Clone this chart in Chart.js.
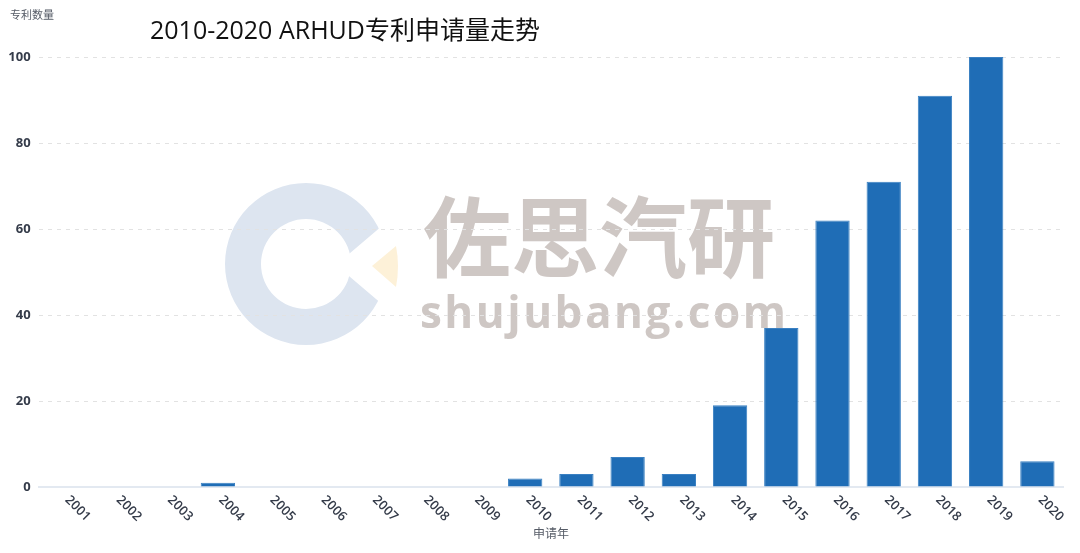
<!DOCTYPE html>
<html>
<head>
<meta charset="utf-8">
<script src="https://cdn.jsdelivr.net/npm/chart.js@4"></script>
<style>
  html, body { margin: 0; padding: 0; background: #fff; }
  #wrap { width: 1080px; height: 553px; position: relative; }
</style>
</head>
<body>
<div id="wrap"><canvas id="chart"></canvas></div>
<script>
const years = ['2001','2002','2003','2004','2005','2006','2007','2008','2009','2010',
               '2011','2012','2013','2014','2015','2016','2017','2018','2019','2020'];
const patents = [0, 0, 0, 1, 0, 0, 0, 0, 0, 2, 3, 7, 3, 19, 37, 62, 71, 91, 100, 6];
const yTicks = [0, 20, 40, 60, 80, 100];

const titleText = '2010-2020 ARHUD专利申请量走势';
const yTitle = '专利数量';
const xTitle = '申请年';

const FONT = '"Noto Sans CJK SC", "Open Sans", sans-serif';
const LATIN_FONT = '"Open Sans", "Noto Sans CJK SC", sans-serif';
const TEXT_COLOR = '#353c4a';

// watermark (drawn first, so grid and bars sit on top) + texts chart.js can't place this way
const decorPlugin = {
    id: 'decor',
    beforeDraw(chart) {
        const ctx = chart.ctx;
        ctx.save();
        // logo ring with a wedge cut out on the right
        const cx = 306, cy = 264;
        ctx.save();
        ctx.beginPath();
        ctx.rect(0, 0, chart.width, chart.height);
        ctx.moveTo(336, 265);
        ctx.lineTo(336 + 200, 265 - 170);
        ctx.lineTo(336 + 200, 265 + 170);
        ctx.closePath();
        ctx.clip('evenodd');
        ctx.fillStyle = '#dde5f0';
        ctx.beginPath();
        ctx.arc(cx, cy, 81, 0, Math.PI * 2);
        ctx.moveTo(cx + 45, cy);
        ctx.arc(cx, cy, 45, 0, Math.PI * 2, true);
        ctx.fill();
        ctx.restore();
        ctx.fillStyle = '#fdf1d8';
        ctx.beginPath();
        ctx.moveTo(372, 266);
        ctx.lineTo(396, 246);
        ctx.quadraticCurveTo(400, 266, 396, 287);
        ctx.closePath();
        ctx.fill();
        // watermark text
        ctx.fillStyle = 'rgba(190, 180, 176, 0.75)';
        ctx.textBaseline = 'alphabetic';
        ctx.textAlign = 'left';
        ctx.font = 'bold 88px ' + FONT;
        ctx.fillText('佐思汽研', 423, 270);
        ctx.font = 'bold 44px "Open Sans", sans-serif';
        if (ctx.letterSpacing !== undefined) ctx.letterSpacing = '2.5px';
        ctx.fillText('shujubang.com', 420, 328);
        ctx.restore();
    },
    afterDraw(chart) {
        const ctx = chart.ctx;
        const x = chart.scales.x;
        ctx.save();
        ctx.fillStyle = TEXT_COLOR;
        ctx.font = '600 13px ' + LATIN_FONT;
        ctx.textAlign = 'left';
        ctx.textBaseline = 'middle';
        years.forEach((label, i) => {
            const px = x.getPixelForTick(i);
            ctx.save();
            ctx.translate(px + 3, 498);
            ctx.rotate(Math.PI / 4);
            ctx.fillText(label, 0, 0);
            ctx.restore();
        });
        ctx.textAlign = 'center';
        ctx.font = '12px ' + FONT;
        ctx.fillStyle = '#555b66';
        ctx.fillText(xTitle, 551, 533);

        ctx.textAlign = 'left';
        ctx.font = '11px ' + FONT;
        ctx.fillText(yTitle, 10, 15);

        ctx.fillStyle = '#111';
        ctx.font = '25px ' + LATIN_FONT;
        ctx.fillText(titleText, 150, 32);
        ctx.restore();
    }
};

new Chart(document.getElementById('chart'), {
    type: 'bar',
    data: {
        labels: years,
        datasets: [{
            data: patents,
            backgroundColor: '#1f6db6',
            borderColor: '#3a80c2',
            borderWidth: 1,
            barPercentage: 0.67,
            categoryPercentage: 1.0
        }]
    },
    options: {
        responsive: true,
        maintainAspectRatio: false,
        animation: false,
        layout: { padding: { top: 57, right: 17, bottom: 0, left: 0 } },
        plugins: {
            legend: { display: false },
            tooltip: { enabled: false }
        },
        scales: {
            x: {
                grid: { display: false },
                // the solid baseline at 0
                border: { display: true, color: '#e3e9f1', width: 2 },
                ticks: { display: false },
                afterFit(scale) { scale.height = 66; }
            },
            y: {
                min: 0,
                max: 100,
                afterFit(scale) { scale.width = 38.6; },
                afterBuildTicks(scale) { scale.ticks = yTicks.map(v => ({ value: v })); },
                border: { display: false, dash: [4, 5] },
                grid: {
                    color: ctx => ctx.tick && ctx.tick.value === 0 ? 'rgba(0,0,0,0)' : '#e2e2e2',
                    drawTicks: false
                },
                ticks: {
                    padding: 8,
                    color: TEXT_COLOR,
                    font: { family: LATIN_FONT, size: 13, weight: 'bold' }
                }
            }
        }
    },
    plugins: [decorPlugin]
});
</script>
</body>
</html>
